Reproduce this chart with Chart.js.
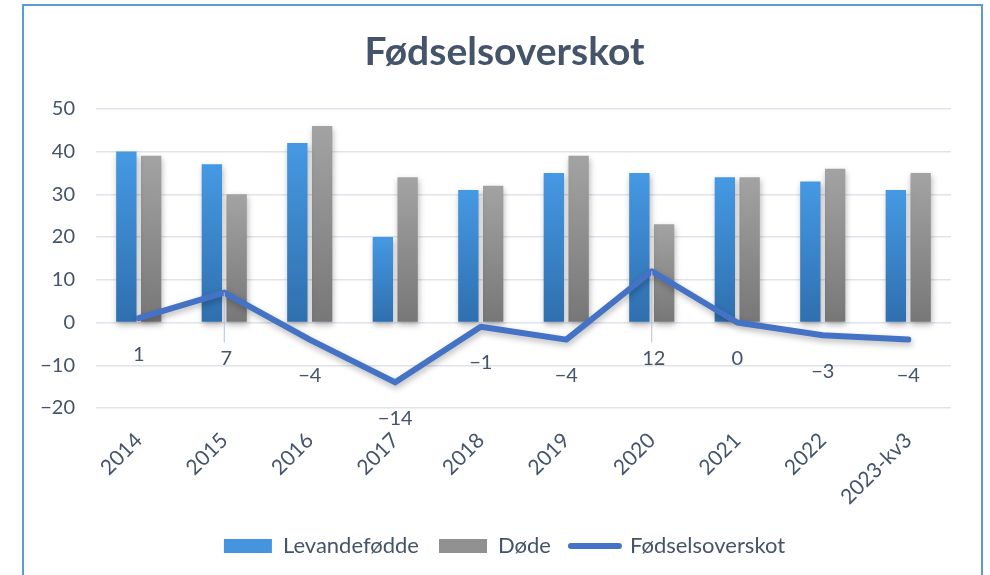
<!DOCTYPE html>
<html>
<head>
<meta charset="utf-8">
<script src="https://cdn.jsdelivr.net/npm/chart.js@4"></script>
<style>
  html, body { margin: 0; padding: 0; background: #ffffff; overflow: hidden; }
  #wrap { position: relative; width: 990px; height: 575px; }
  #frame { position: absolute; left: 22px; top: 4px; width: 961px; height: 700px; border: 2px solid #5b9bd5; box-sizing: border-box; }
  #chart { position: absolute; left: 0; top: 0; }
</style>
</head>
<body>
<div id="wrap">
  <div id="frame"></div>
  <canvas id="chart" width="990" height="575"></canvas>
</div>
<script>
// Data
const years = ["2014", "2015", "2016", "2017", "2018", "2019", "2020", "2021", "2022", "2023-kv3"];
const levandefodde = [40, 37, 42, 20, 31, 35, 35, 34, 33, 31];
const dode = [39, 30, 46, 34, 32, 39, 23, 34, 36, 35];
const overskot = [1, 7, -4, -14, -1, -4, 12, 0, -3, -4];
const yTicks = [-20, -10, 0, 10, 20, 30, 40, 50];

const textColor = "#44546a";
const fontFamily = "Lato, 'Open Sans', sans-serif";

// use a real minus sign like the original
function fmt(v) {
  return v < 0 ? "\u2212" + Math.abs(v) : String(v);
}

// vertical gradient per bar, from the top of the bar down to zero
function barGradient(top, bottom) {
  return function (context) {
    const chart = context.chart;
    if (!chart.chartArea || context.type !== "data") return top;
    const y = chart.scales.y;
    const g = chart.ctx.createLinearGradient(0, y.getPixelForValue(context.raw), 0, y.getPixelForValue(0));
    g.addColorStop(0, top);
    g.addColorStop(1, bottom);
    return g;
  };
}

// soft drop shadow under bars and line
const shadowPlugin = {
  id: "shadow",
  beforeDatasetDraw(chart, args) {
    const ctx = chart.ctx;
    ctx.save();
    ctx.shadowColor = "rgba(0, 0, 0, 0.28)";
    ctx.shadowBlur = 6;
    ctx.shadowOffsetX = 1;
    ctx.shadowOffsetY = 3;
  },
  afterDatasetDraw(chart) {
    chart.ctx.restore();
  },
};

// title and legend are centred on the whole frame, not just the plot side
const centerShift = {
  id: "centerShift",
  afterLayout(chart) {
    const shift = 29;
    [chart.titleBlock, chart.legend].forEach((box) => {
      if (box) {
        box.left += shift;
        box.right += shift;
      }
    });
  },
};

// value labels under the line points; the high ones sit below zero with a leader line
const lineLabels = {
  id: "lineLabels",
  afterDatasetsDraw(chart) {
    const ctx = chart.ctx;
    const yScale = chart.scales.y;
    const meta = chart.getDatasetMeta(2);
    ctx.save();
    ctx.font = "20px " + fontFamily;
    ctx.fillStyle = textColor;
    ctx.textAlign = "center";
    ctx.textBaseline = "middle";
    meta.data.forEach((pt, i) => {
      const v = overskot[i];
      const moved = v >= 5;
      const ly = yScale.getPixelForValue(moved ? 0 : v) + 36;
      if (moved) {
        ctx.strokeStyle = "#b4c0d0";
        ctx.lineWidth = 1;
        ctx.beginPath();
        ctx.moveTo(pt.x, pt.y);
        ctx.lineTo(pt.x, ly - 16);
        ctx.stroke();
      }
      ctx.fillText(fmt(v), pt.x + (moved ? 2 : 0), ly);
    });
    ctx.restore();
  },
};

const chart = new Chart(document.getElementById("chart").getContext("2d"), {
  type: "bar",
  data: {
    labels: years,
    datasets: [
      {
        label: "Levandefødde",
        data: levandefodde,
        backgroundColor: barGradient("#4599e3", "#2f6fae"),
        legendColor: "#4495dd",
        categoryPercentage: 0.58,
        barPercentage: 0.82,
        pointStyle: "rect",
        order: 1,
      },
      {
        label: "Døde",
        data: dode,
        backgroundColor: barGradient("#a3a3a3", "#777777"),
        legendColor: "#919191",
        categoryPercentage: 0.58,
        barPercentage: 0.82,
        pointStyle: "rect",
        order: 1,
      },
      {
        type: "line",
        label: "Fødselsoverskot",
        data: overskot,
        borderColor: "#4472c4",
        backgroundColor: "#4472c4",
        borderWidth: 6,
        borderCapStyle: "round",
        borderJoinStyle: "round",
        pointRadius: 0,
        pointStyle: "line",
        tension: 0,
        order: 0,
      },
    ],
  },
  options: {
    responsive: false,
    animation: false,
    layout: {
      padding: { left: 0, right: 39, top: 0, bottom: 8 },
    },
    plugins: {
      title: {
        display: true,
        text: "Fødselsoverskot",
        color: textColor,
        font: { family: fontFamily, size: 39, weight: "bold" },
        padding: { top: 29, bottom: 33 },
      },
      legend: {
        position: "bottom",
        labels: {
          color: "#44546a",
          font: { family: fontFamily, size: 22 },
          usePointStyle: true,
          pointStyleWidth: 48,
          boxHeight: 14,
          padding: 20,
          sort: (a, b) => a.datasetIndex - b.datasetIndex,
          generateLabels: function (chart) {
            const items = Chart.defaults.plugins.legend.labels.generateLabels(chart);
            items.forEach((item) => {
              const ds = chart.data.datasets[item.datasetIndex];
              if (ds.type === "line") {
                item.strokeStyle = ds.borderColor;
                item.lineWidth = 6;
                item.lineCap = "round";
                item.pointStyle = "line";
              } else {
                item.fillStyle = ds.legendColor;
                item.strokeStyle = ds.legendColor;
                item.lineWidth = 0;
                item.pointStyle = "rect";
              }
            });
            return items;
          },
        },
      },
      tooltip: { enabled: false },
    },
    scales: {
      x: {
        grid: { display: false, drawTicks: false },
        border: { display: false },
        ticks: {
          color: textColor,
          font: { family: fontFamily, size: 21 },
          maxRotation: 45,
          minRotation: 45,
          padding: 20,
        },
        afterFit(scale) {
          scale.height = 107;
        },
      },
      y: {
        min: -20,
        max: 50,
        grid: { color: "#dfe4eb", lineWidth: 1.5, drawTicks: false },
        border: { display: false },
        afterBuildTicks(scale) {
          scale.ticks = yTicks.map((v) => ({ value: v }));
        },
        ticks: {
          color: textColor,
          font: { family: fontFamily, size: 20 },
          padding: 21,
          callback: (v) => fmt(v),
        },
        afterFit(scale) {
          scale.width = 96;
        },
      },
    },
  },
  plugins: [shadowPlugin, centerShift, lineLabels],
});
</script>
</body>
</html>
